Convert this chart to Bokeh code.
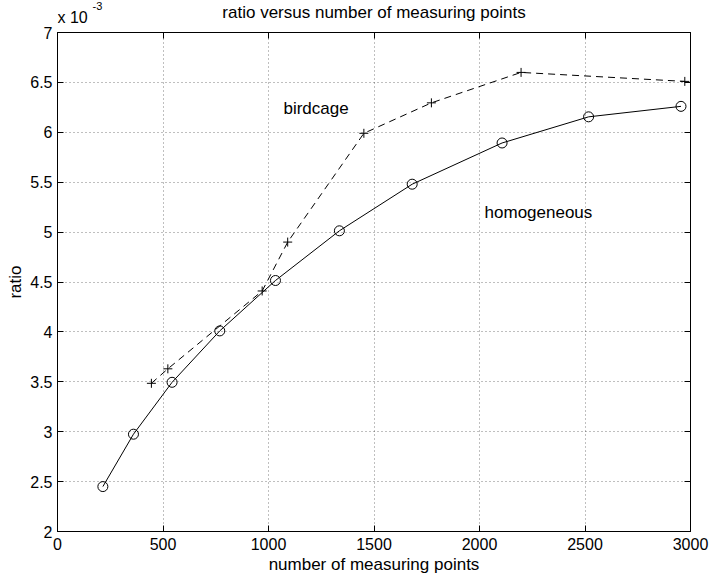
from bokeh.plotting import figure
from bokeh.layouts import column
from bokeh.models import Range1d, FixedTicker, LinearAxis, Label
from bokeh.core.properties import value
from bokeh.embed import file_html
from bokeh.resources import INLINE

# ---- data (ratio in units of 1e-3, as on the axis) ----
homog_points = [215, 360, 543, 769, 1033, 1336, 1681, 2107, 2517, 2955]
homog_ratio = [2.45, 2.975, 3.495, 4.01, 4.515, 5.013, 5.48, 5.893, 6.155, 6.26]

bird_points = [445, 523, 970, 1091, 1452, 1772, 2197, 2973]
bird_ratio = [3.485, 3.63, 4.41, 4.90, 5.99, 6.295, 6.60, 6.51]

x_ticks = [0, 500, 1000, 1500, 2000, 2500, 3000]
y_ticks = [2, 2.5, 3, 3.5, 4, 4.5, 5, 5.5, 6, 6.5, 7]
y_tick_labels = ["2", "2.5", "3", "3.5", "4", "4.5", "5", "5.5", "6", "6.5", "7"]

title_text = "ratio versus number of measuring points"
x_label = "number of measuring points"
y_label = "ratio"
FONT = "Liberation Sans"

HEAD_H = 24
TOP_PAD = 32 - HEAD_H
xr = Range1d(0, 3000)

# ---- header strip: title and axis multiplier ----
head = figure(width=711, height=HEAD_H, output_backend="svg", toolbar_location=None,
              x_range=xr, y_range=Range1d(HEAD_H, 0),
              min_border_left=57, min_border_right=21, min_border_top=0, min_border_bottom=0)
head.axis.visible = False
head.grid.visible = False
head.outline_line_color = None
head.background_fill_color = "white"
head.border_fill_color = "white"

head.text(x=[1500], y=[12], text=[title_text], text_align="center", text_baseline="middle",
          text_font=value(FONT), text_font_size="17px", text_color="black")
head.text(x=[0], y=[16.5], text=["x 10"], text_align="left", text_baseline="middle",
          text_font=value(FONT), text_font_size="16px", text_color="black")
head.text(x=[166], y=[5], text=["-3"], text_align="left", text_baseline="middle",
          text_font=value(FONT), text_font_size="11px", text_color="black")

# ---- main plot ----
p = figure(width=711, height=576 - HEAD_H, output_backend="svg", toolbar_location=None,
           x_range=xr, y_range=Range1d(2, 7),
           min_border_left=57, min_border_right=21, min_border_top=TOP_PAD, min_border_bottom=44)
p.background_fill_color = "white"
p.border_fill_color = "white"
p.outline_line_color = "black"
p.outline_line_width = 1

for g in (p.xgrid, p.ygrid):
    g.grid_line_color = "black"
    g.grid_line_alpha = 0.5
    g.grid_line_dash = "1 3"
    g.grid_line_width = 1
p.xgrid.ticker = FixedTicker(ticks=x_ticks)
p.ygrid.ticker = FixedTicker(ticks=y_ticks)

xa = p.xaxis[0]
ya = p.yaxis[0]
xa.ticker = FixedTicker(ticks=x_ticks)
ya.ticker = FixedTicker(ticks=y_ticks)
ya.major_label_overrides = {float(t): s for t, s in zip(y_ticks, y_tick_labels)}
for ax in (xa, ya):
    ax.major_tick_in = 6
    ax.major_tick_out = 0
    ax.minor_tick_in = 0
    ax.minor_tick_out = 0
    ax.axis_line_color = "black"
    ax.major_tick_line_color = "black"
    ax.major_label_text_font = FONT
    ax.major_label_text_font_size = "16px"
    ax.major_label_text_color = "black"
    ax.axis_label_text_font = FONT
    ax.axis_label_text_font_size = "17px"
    ax.axis_label_text_font_style = "normal"
    ax.axis_label_text_color = "black"
xa.major_label_standoff = 6
ya.major_label_standoff = 5
xa.axis_label = x_label
ya.axis_label = y_label
xa.axis_label_standoff = 2
ya.axis_label_standoff = 2

# inward ticks on the top and right sides of the box
for loc, tk in (("right", y_ticks), ("above", x_ticks)):
    ax = LinearAxis(ticker=FixedTicker(ticks=tk))
    ax.major_tick_in = 6
    ax.major_tick_out = 0
    ax.minor_tick_in = 0
    ax.minor_tick_out = 0
    ax.major_label_overrides = {float(t): "" for t in tk}
    ax.major_label_standoff = 0
    ax.axis_line_color = "black"
    ax.major_tick_line_color = "black"
    p.add_layout(ax, loc)

# series
p.line(homog_points, homog_ratio, line_color="black", line_width=1)
p.scatter(homog_points, homog_ratio, marker="circle", size=10,
          fill_color=None, line_color="black", line_width=1)
p.line(bird_points, bird_ratio, line_color="black", line_width=1, line_dash="7 5")
p.scatter(bird_points, bird_ratio, marker="cross", size=9,
          line_color="black", line_width=1)

# in-plot texts
p.add_layout(Label(x=1071, y=6.241, text="birdcage", text_align="left",
                   text_baseline="middle", text_font=FONT, text_font_size="17px",
                   text_color="black"))
p.add_layout(Label(x=2024, y=5.20, text="homogeneous", text_align="left",
                   text_baseline="middle", text_font=FONT, text_font_size="17px",
                   text_color="black"))

layout = column(head, p, spacing=0)
open("out.html", "w").write(file_html(layout, INLINE))
